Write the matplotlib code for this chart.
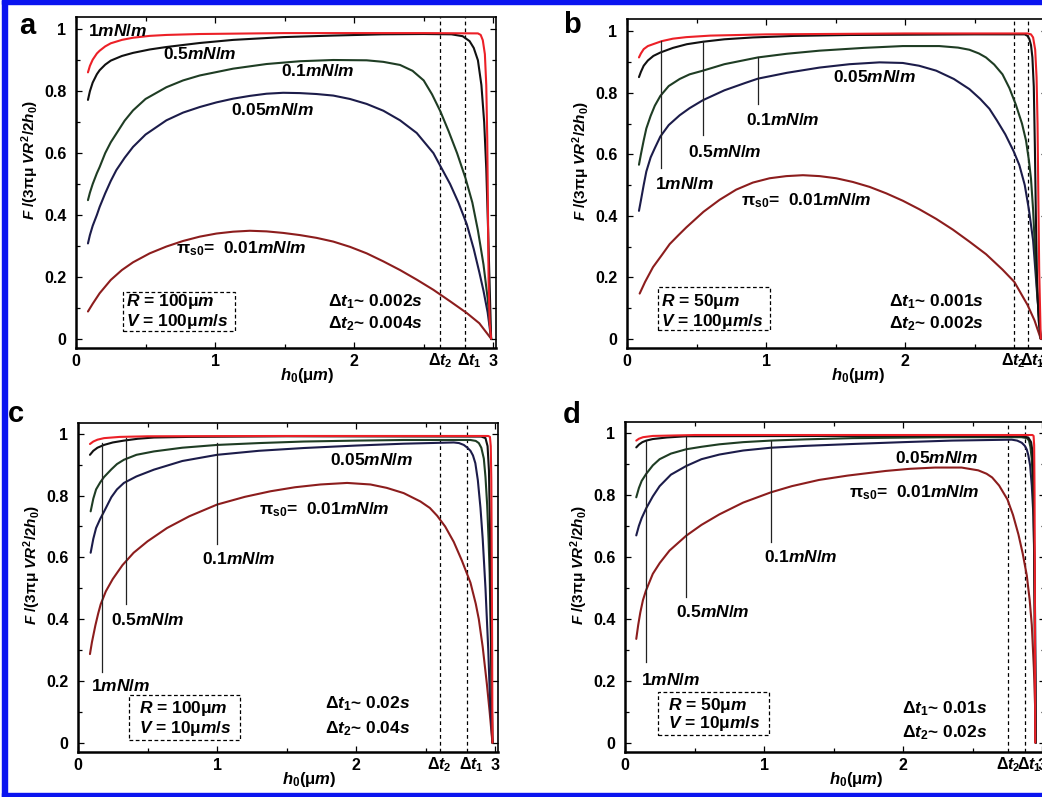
import matplotlib
matplotlib.use("Agg")
import matplotlib.pyplot as plt
from matplotlib.patches import Rectangle
from matplotlib.transforms import blended_transform_factory
from matplotlib.ticker import MultipleLocator

plt.rcParams['font.family'] = ['Liberation Sans', 'DejaVu Sans']
plt.rcParams['font.weight'] = 'bold'
plt.rcParams['mathtext.fontset'] = 'custom'
plt.rcParams['mathtext.rm'] = 'Liberation Sans:bold'
plt.rcParams['mathtext.it'] = 'Liberation Sans:italic:bold'
plt.rcParams['mathtext.bf'] = 'Liberation Sans:bold'
plt.rcParams['mathtext.sf'] = 'Liberation Sans:bold'

# ---------------- data (h0 in um, normalised force) ----------------
X_TICKS = [0, 1, 2, 3]
X_TICK_LABELS = ["0", "1", "2", "3"]
Y_TICKS = [0, 0.2, 0.4, 0.6, 0.8, 1.0]
Y_TICK_LABELS = ["0", "0.2", "0.4", "0.6", "0.8", "1"]
SERIES = ["0.01", "0.05", "0.1", "0.5", "1"]   # pi_s0, mN/m

# panel a : R = 100 um, V = 100 um/s
A_H_001 = [0.086, 0.12, 0.17, 0.25, 0.33, 0.41, 0.53, 0.65, 0.77, 0.89, 1.01, 1.13, 1.25, 1.37, 1.49, 1.61, 1.73, 1.85, 1.97, 2.09, 2.21, 2.33, 2.45, 2.57, 2.69, 2.81, 2.90, 2.985]
A_F_001 = [0.088, 0.113, 0.147, 0.190, 0.222, 0.247, 0.276, 0.298, 0.316, 0.330, 0.340, 0.346, 0.349, 0.347, 0.342, 0.335, 0.326, 0.314, 0.297, 0.276, 0.250, 0.222, 0.191, 0.158, 0.121, 0.083, 0.050, 0.0]
A_H_005 = [0.086, 0.10, 0.12, 0.15, 0.17, 0.21, 0.25, 0.29, 0.35, 0.41, 0.50, 0.65, 0.77, 0.89, 1.01, 1.13, 1.25, 1.37, 1.49, 1.61, 1.73, 1.85, 1.97, 2.09, 2.21, 2.33, 2.45, 2.57, 2.63, 2.69, 2.75, 2.81, 2.86, 2.90, 2.93, 2.96, 2.985]
A_F_005 = [0.308, 0.335, 0.365, 0.400, 0.426, 0.470, 0.510, 0.545, 0.585, 0.620, 0.660, 0.706, 0.731, 0.749, 0.764, 0.776, 0.785, 0.792, 0.795, 0.794, 0.791, 0.786, 0.775, 0.759, 0.737, 0.706, 0.665, 0.600, 0.550, 0.500, 0.440, 0.370, 0.290, 0.215, 0.155, 0.085, 0.0]
A_H_01 = [0.086, 0.10, 0.12, 0.15, 0.17, 0.21, 0.25, 0.29, 0.35, 0.41, 0.50, 0.65, 0.77, 0.89, 1.13, 1.37, 1.61, 1.85, 2.09, 2.21, 2.33, 2.42, 2.50, 2.56, 2.62, 2.68, 2.74, 2.80, 2.85, 2.89, 2.93, 2.96, 2.985]
A_F_01 = [0.448, 0.472, 0.500, 0.535, 0.555, 0.600, 0.635, 0.663, 0.705, 0.738, 0.775, 0.813, 0.835, 0.851, 0.873, 0.888, 0.897, 0.901, 0.900, 0.895, 0.885, 0.866, 0.835, 0.790, 0.735, 0.670, 0.600, 0.520, 0.440, 0.350, 0.240, 0.130, 0.0]
A_H_05 = [0.086, 0.10, 0.12, 0.15, 0.17, 0.21, 0.25, 0.33, 0.41, 0.53, 0.65, 0.89, 1.13, 1.49, 1.85, 2.2, 2.5, 2.70, 2.78, 2.83, 2.86, 2.89, 2.915, 2.935, 2.95, 2.964, 2.975, 2.985]
A_F_05 = [0.772, 0.800, 0.828, 0.855, 0.868, 0.886, 0.899, 0.914, 0.924, 0.935, 0.943, 0.956, 0.966, 0.975, 0.980, 0.984, 0.985, 0.984, 0.978, 0.962, 0.940, 0.900, 0.820, 0.700, 0.550, 0.340, 0.160, 0.0]
A_H_1 = [0.086, 0.10, 0.12, 0.15, 0.17, 0.21, 0.25, 0.33, 0.41, 0.53, 0.65, 0.89, 1.5, 2.5, 2.89, 2.91, 2.925, 2.94, 2.95, 2.957, 2.962, 2.967, 2.975, 2.985]
A_F_1 = [0.861, 0.882, 0.902, 0.922, 0.931, 0.945, 0.955, 0.966, 0.973, 0.979, 0.982, 0.985, 0.988, 0.988, 0.987, 0.982, 0.965, 0.920, 0.820, 0.650, 0.420, 0.180, 0.050, 0.0]

# panel b : R = 50 um, V = 100 um/s
B_H_001 = [0.091, 0.13, 0.187, 0.25, 0.307, 0.37, 0.426, 0.55, 0.666, 0.785, 0.905, 1.025, 1.145, 1.265, 1.385, 1.505, 1.624, 1.744, 1.864, 1.983, 2.103, 2.223, 2.343, 2.462, 2.582, 2.70, 2.785, 2.88, 2.93, 2.975]
B_F_001 = [0.147, 0.185, 0.233, 0.272, 0.308, 0.337, 0.362, 0.413, 0.452, 0.485, 0.508, 0.522, 0.529, 0.532, 0.529, 0.522, 0.510, 0.494, 0.473, 0.449, 0.421, 0.390, 0.355, 0.316, 0.275, 0.225, 0.185, 0.110, 0.060, 0.0]
B_H_005 = [0.086, 0.10, 0.12, 0.139, 0.17, 0.20, 0.24, 0.30, 0.379, 0.45, 0.546, 0.70, 0.85, 0.941, 1.15, 1.384, 1.6, 1.816, 1.983, 2.1, 2.223, 2.35, 2.462, 2.54, 2.606, 2.66, 2.72, 2.78, 2.821, 2.86, 2.89, 2.92, 2.95, 2.975]
B_F_005 = [0.416, 0.450, 0.500, 0.544, 0.590, 0.620, 0.658, 0.695, 0.727, 0.750, 0.776, 0.808, 0.832, 0.846, 0.865, 0.882, 0.893, 0.899, 0.897, 0.888, 0.872, 0.845, 0.812, 0.780, 0.748, 0.710, 0.665, 0.610, 0.565, 0.500, 0.420, 0.320, 0.140, 0.0]
B_H_01 = [0.086, 0.10, 0.12, 0.139, 0.17, 0.20, 0.24, 0.30, 0.379, 0.45, 0.546, 0.70, 0.941, 1.15, 1.384, 1.7, 1.983, 2.245, 2.38, 2.462, 2.53, 2.581, 2.64, 2.70, 2.75, 2.797, 2.84, 2.869, 2.89, 2.905, 2.92, 2.935, 2.95, 2.965, 2.975]
B_F_01 = [0.566, 0.600, 0.645, 0.684, 0.725, 0.758, 0.790, 0.822, 0.845, 0.860, 0.872, 0.893, 0.915, 0.927, 0.937, 0.946, 0.952, 0.952, 0.947, 0.940, 0.928, 0.915, 0.892, 0.860, 0.815, 0.760, 0.700, 0.645, 0.580, 0.520, 0.420, 0.280, 0.150, 0.050, 0.0]
B_H_05 = [0.086, 0.10, 0.12, 0.15, 0.19, 0.24, 0.33, 0.43, 0.546, 0.7, 0.905, 1.2, 1.6, 2.5, 2.86, 2.88, 2.893, 2.905, 2.915, 2.925, 2.933, 2.94, 2.948, 2.96, 2.975]
B_F_05 = [0.851, 0.868, 0.888, 0.905, 0.920, 0.931, 0.946, 0.958, 0.966, 0.974, 0.980, 0.985, 0.988, 0.990, 0.990, 0.985, 0.975, 0.955, 0.915, 0.820, 0.620, 0.400, 0.200, 0.060, 0.0]
B_H_1 = [0.086, 0.10, 0.12, 0.15, 0.187, 0.25, 0.33, 0.426, 0.6, 1.0, 2.0, 2.88, 2.905, 2.92, 2.935, 2.945, 2.952, 2.958, 2.964, 2.975]
B_F_1 = [0.915, 0.928, 0.942, 0.952, 0.958, 0.968, 0.976, 0.981, 0.986, 0.990, 0.993, 0.993, 0.990, 0.980, 0.940, 0.850, 0.700, 0.450, 0.220, 0.0]

# panel c : R = 100 um, V = 10 um/s
C_H_001 = [0.086, 0.10, 0.125, 0.145, 0.163, 0.2, 0.25, 0.32, 0.40, 0.50, 0.64, 0.80, 1.0, 1.2, 1.384, 1.56, 1.744, 1.935, 2.103, 2.22, 2.342, 2.462, 2.53, 2.582, 2.64, 2.702, 2.76, 2.822, 2.86, 2.882, 2.91, 2.94, 2.96, 2.98]
C_F_001 = [0.287, 0.325, 0.380, 0.418, 0.448, 0.490, 0.530, 0.575, 0.615, 0.652, 0.695, 0.733, 0.771, 0.796, 0.814, 0.827, 0.836, 0.841, 0.836, 0.825, 0.808, 0.781, 0.760, 0.735, 0.700, 0.650, 0.590, 0.518, 0.450, 0.400, 0.310, 0.190, 0.100, 0.0]
C_H_005 = [0.091, 0.11, 0.13, 0.16, 0.187, 0.24, 0.28, 0.33, 0.42, 0.546, 0.75, 1.0, 1.3, 1.623, 2.0, 2.342, 2.702, 2.74, 2.774, 2.80, 2.822, 2.84, 2.857, 2.875, 2.894, 2.91, 2.93, 2.95, 2.964, 2.98]
C_F_005 = [0.615, 0.660, 0.695, 0.725, 0.748, 0.795, 0.820, 0.841, 0.862, 0.884, 0.912, 0.932, 0.945, 0.954, 0.962, 0.968, 0.972, 0.970, 0.964, 0.955, 0.945, 0.930, 0.905, 0.850, 0.760, 0.660, 0.500, 0.300, 0.120, 0.0]
C_H_01 = [0.091, 0.11, 0.13, 0.16, 0.187, 0.24, 0.28, 0.33, 0.42, 0.546, 0.75, 1.0, 1.3, 1.623, 2.0, 2.342, 2.822, 2.86, 2.882, 2.90, 2.918, 2.93, 2.942, 2.952, 2.96, 2.968, 2.975, 2.98]
C_F_01 = [0.749, 0.790, 0.820, 0.843, 0.860, 0.885, 0.902, 0.916, 0.932, 0.943, 0.955, 0.964, 0.970, 0.975, 0.978, 0.980, 0.980, 0.977, 0.970, 0.955, 0.920, 0.860, 0.770, 0.660, 0.550, 0.350, 0.150, 0.0]
C_H_05 = [0.086, 0.11, 0.14, 0.187, 0.25, 0.33, 0.43, 0.546, 0.8, 1.5, 2.9, 2.93, 2.945, 2.955, 2.962, 2.968, 2.974, 2.98]
C_F_05 = [0.932, 0.945, 0.955, 0.964, 0.972, 0.978, 0.984, 0.988, 0.990, 0.992, 0.991, 0.986, 0.960, 0.880, 0.700, 0.450, 0.200, 0.0]
C_H_1 = [0.086, 0.11, 0.14, 0.187, 0.3, 0.5, 1.5, 2.95, 2.962, 2.968, 2.972, 2.975, 2.978, 2.98]
C_F_1 = [0.967, 0.975, 0.981, 0.986, 0.990, 0.992, 0.993, 0.993, 0.990, 0.960, 0.850, 0.600, 0.300, 0.0]

# panel d : R = 50 um, V = 10 um/s
D_H_001 = [0.081, 0.095, 0.11, 0.129, 0.15, 0.2, 0.25, 0.32, 0.44, 0.55, 0.679, 0.85, 1.049, 1.2, 1.395, 1.6, 1.874, 2.05, 2.23, 2.42, 2.54, 2.60, 2.64, 2.69, 2.75, 2.79, 2.829, 2.86, 2.889, 2.91, 2.925, 2.94, 2.95, 2.955]
D_F_001 = [0.335, 0.380, 0.420, 0.460, 0.490, 0.545, 0.580, 0.620, 0.668, 0.703, 0.737, 0.775, 0.808, 0.828, 0.848, 0.862, 0.877, 0.884, 0.888, 0.888, 0.879, 0.868, 0.856, 0.830, 0.785, 0.735, 0.672, 0.610, 0.540, 0.460, 0.380, 0.240, 0.100, 0.0]
D_H_005 = [0.081, 0.10, 0.12, 0.153, 0.2, 0.249, 0.33, 0.44, 0.55, 0.679, 0.85, 1.049, 1.3, 1.634, 2.0, 2.351, 2.781, 2.82, 2.853, 2.875, 2.889, 2.90, 2.913, 2.925, 2.937, 2.944, 2.949, 2.953, 2.955]
D_F_005 = [0.669, 0.700, 0.725, 0.757, 0.795, 0.828, 0.865, 0.893, 0.915, 0.930, 0.943, 0.952, 0.958, 0.964, 0.970, 0.975, 0.978, 0.975, 0.968, 0.958, 0.946, 0.928, 0.895, 0.830, 0.730, 0.580, 0.400, 0.180, 0.0]
D_H_01 = [0.081, 0.10, 0.12, 0.153, 0.2, 0.249, 0.33, 0.44, 0.55, 0.679, 0.85, 1.049, 1.3, 1.634, 2.351, 2.85, 2.89, 2.905, 2.915, 2.925, 2.932, 2.937, 2.942, 2.946, 2.95, 2.952]
D_F_01 = [0.792, 0.822, 0.845, 0.868, 0.895, 0.915, 0.933, 0.947, 0.955, 0.963, 0.970, 0.975, 0.979, 0.983, 0.986, 0.986, 0.983, 0.975, 0.955, 0.915, 0.850, 0.760, 0.600, 0.420, 0.200, 0.0]
D_H_05 = [0.081, 0.10, 0.125, 0.153, 0.2, 0.3, 0.44, 1.5, 2.85, 2.9, 2.92, 2.93, 2.937, 2.942, 2.946, 2.95, 2.952]
D_F_05 = [0.953, 0.962, 0.970, 0.975, 0.980, 0.985, 0.989, 0.990, 0.990, 0.985, 0.970, 0.940, 0.850, 0.650, 0.400, 0.150, 0.0]
D_H_1 = [0.081, 0.10, 0.13, 0.2, 0.5, 2.93, 2.938, 2.942, 2.945, 2.947, 2.949, 2.95]
D_F_1 = [0.975, 0.981, 0.986, 0.990, 0.993, 0.993, 0.990, 0.960, 0.800, 0.500, 0.200, 0.0]

R_VALUES = ["100", "50", "100", "50"]
V_VALUES = ["100", "100", "10", "10"]
DT1_VALUES = ["0.002", "0.001", "0.02", "0.01"]
DT2_VALUES = ["0.004", "0.002", "0.04", "0.02"]
DT_POSITIONS = [(2.62, 2.80), (2.78, 2.885), (2.60, 2.80), (2.753, 2.877)]
LETTERS = ["a", "b", "c", "d"]

# ---------------- styling / layout ----------------
COLORS = ["#8c1d1d", "#1c1c4a", "#1f3d24", "#111111", "#ec2027"]
W, H = 1042, 797

fig = plt.figure(figsize=(W / 100, H / 100), dpi=100)
fig.patch.set_facecolor("white")


def fig_rect(x0, y0, x1, y1):
    return [x0 / W, 1 - y1 / H, (x1 - x0) / W, (y1 - y0) / H]


panels = [
    dict(rect=(76, 17, 496, 348), ylim=(-0.03, 1.04), letter_xy=(27, 26),
         curves=[(A_H_001, A_F_001), (A_H_005, A_F_005), (A_H_01, A_F_01), (A_H_05, A_F_05), (A_H_1, A_F_1)],
         labels=[(0.722, 0.292), (1.118, 0.738), (1.477, 0.867), (0.626, 0.92), (0.086, 0.996)],
         leaders=[], box=(0.34, 1.14, 0.024, 0.152), boxtext=(0.36, 0.12, 0.056),
         dttext=(1.813, 0.12, 0.05)),
    dict(rect=(627, 19, 1047, 348), ylim=(-0.03, 1.04), letter_xy=(572, 25),
         curves=[(B_H_001, B_F_001), (B_H_005, B_F_005), (B_H_01, B_F_01), (B_H_05, B_F_05), (B_H_1, B_F_1)],
         labels=[(0.822, 0.448), (1.48, 0.851), (0.857, 0.711), (0.438, 0.609), (0.199, 0.504)],
         leaders=[(0.243, 0.969, 0.555), (0.546, 0.969, 0.663), (0.941, 0.915, 0.765)],
         box=(0.223, 1.025, 0.029, 0.169), boxtext=(0.247, 0.12, 0.056),
         dttext=(1.887, 0.12, 0.05)),
    dict(rect=(78, 423, 498, 752), ylim=(-0.03, 1.035), letter_xy=(16, 414),
         curves=[(C_H_001, C_F_001), (C_H_005, C_F_005), (C_H_01, C_F_01), (C_H_05, C_F_05), (C_H_1, C_F_1)],
         labels=[(1.30, 0.755), (1.815, 0.916), (0.893, 0.594), (0.235, 0.398), (0.091, 0.185)],
         leaders=[(0.17, 0.97, 0.228), (0.343, 0.986, 0.448), (1.0, 0.97, 0.642)],
         box=(0.366, 1.164, 0.01, 0.153), boxtext=(0.438, 0.11, 0.045),
         dttext=(1.779, 0.126, 0.045)),
    dict(rect=(625, 422, 1045, 752), ylim=(-0.03, 1.035), letter_xy=(572, 415),
         curves=[(D_H_001, D_F_001), (D_H_005, D_F_005), (D_H_01, D_F_01), (D_H_05, D_F_05), (D_H_1, D_F_1)],
         labels=[(1.61, 0.808), (1.945, 0.92), (1.0, 0.599), (0.368, 0.421), (0.117, 0.203)],
         leaders=[(0.153, 0.975, 0.26), (0.44, 0.99, 0.47), (1.05, 0.975, 0.647)],
         box=(0.237, 1.037, 0.024, 0.163), boxtext=(0.308, 0.12, 0.061),
         dttext=(1.993, 0.11, 0.034)),
]

LABEL_FS = 12.5
for i, p in enumerate(panels):
    ax = fig.add_axes(fig_rect(*p["rect"]))
    ax.set_xlim(0, 3.02)
    ax.set_ylim(*p["ylim"])
    for (hh, ff), c in zip(p["curves"], COLORS):
        ax.plot(hh, ff, color=c, lw=1.5, solid_capstyle="round",
                solid_joinstyle="round", zorder=3)

    # dashed time markers
    for xd in DT_POSITIONS[i]:
        ax.axvline(xd, color="black", lw=0.9, ls=(0, (3, 2.5)), zorder=2)

    # leader lines
    for xl, y0, y1 in p["leaders"]:
        ax.plot([xl, xl], [y0, y1], color="#222222", lw=0.9, zorder=4)

    # curve labels
    texts = ["π$_{\\mathrm{s0}}$=  " + SERIES[0] + "$\\mathit{mN/m}$"] + \
            [s + "$\\mathit{mN/m}$" for s in SERIES[1:]]
    for (lx, ly), t in zip(p["labels"], texts):
        ax.text(lx, ly, t, fontsize=LABEL_FS, ha="left", va="center", zorder=5)

    # parameter box
    bx0, bx1, by0, by1 = p["box"]
    ax.add_patch(Rectangle((bx0, by0), bx1 - bx0, by1 - by0, fill=False, ec="black",
                           lw=0.9, ls=(0, (3, 2)), zorder=4))
    tx, ty1, ty2 = p["boxtext"]
    ax.text(tx, ty1, "$\\mathit{R}$ = " + R_VALUES[i] + "μ$\\mathit{m}$",
            fontsize=LABEL_FS, ha="left", va="center")
    ax.text(tx, ty2, "$\\mathit{V}$ = " + V_VALUES[i] + "μ$\\mathit{m/s}$",
            fontsize=LABEL_FS, ha="left", va="center")

    dx, dy1, dy2 = p["dttext"]
    ax.text(dx, dy1, "Δ$\\mathit{t}_{1}$~ " + DT1_VALUES[i] + "$\\mathit{s}$",
            fontsize=LABEL_FS, ha="left", va="center")
    ax.text(dx, dy2, "Δ$\\mathit{t}_{2}$~ " + DT2_VALUES[i] + "$\\mathit{s}$",
            fontsize=LABEL_FS, ha="left", va="center")

    # ticks
    ax.set_xticks(X_TICKS)
    ax.set_xticklabels(X_TICK_LABELS)
    ax.set_yticks(Y_TICKS)
    ax.set_yticklabels(Y_TICK_LABELS)
    ax.xaxis.set_minor_locator(MultipleLocator(0.5))
    ax.yaxis.set_minor_locator(MultipleLocator(0.1))
    ax.tick_params(which="both", direction="in", top=True, right=True, width=0.9,
                   labelsize=11.5)
    ax.tick_params(which="major", length=4)
    ax.tick_params(which="minor", length=3)
    ax.tick_params(axis="y", pad=7)
    ax.tick_params(axis="x", pad=4)
    for lab in ax.get_xticklabels() + ax.get_yticklabels():
        lab.set_fontweight("bold")
    for side in ["left", "bottom"]:
        ax.spines[side].set_linewidth(1.8)
    for side in ["top", "right"]:
        ax.spines[side].set_linewidth(1.2)

    # delta-t labels under the axis
    tr = blended_transform_factory(ax.transData, ax.transAxes)
    ax.text(DT_POSITIONS[i][0], -0.038, "Δ$\\mathit{t}_{2}$", transform=tr,
            fontsize=11.5, ha="center", va="center")
    ax.text(DT_POSITIONS[i][1] + 0.03, -0.038, "Δ$\\mathit{t}_{1}$", transform=tr,
            fontsize=11.5, ha="center", va="center")

    # axis labels
    ax.text(0.55, -0.083, "$\\mathit{h}_{0}$(μ$\\mathit{m}$)", transform=ax.transAxes,
            fontsize=12, ha="center", va="center")
    ax.text(-0.11, 0.567, "$\\mathit{F}$ /(3πμ $\\mathit{VR}^{2}$/2$\\mathit{h}_{0}$)",
            transform=ax.transAxes, fontsize=11, ha="center", va="center", rotation=90)

    # panel letter
    lx, ly = p["letter_xy"]
    fig.text(lx / W, 1 - ly / H, LETTERS[i], fontsize=21, fontweight="bold",
             ha="center", va="center")

# blue frame
for (x0, y0, x1, y1) in [(2, 0, W, 4), (2, 0, 7, H), (2, 793, W, H)]:
    fig.patches.append(Rectangle((x0 / W, 1 - y1 / H), (x1 - x0) / W, (y1 - y0) / H,
                                 transform=fig.transFigure, color="#0a14f0", zorder=10))

fig.savefig("out.png", dpi=100)
